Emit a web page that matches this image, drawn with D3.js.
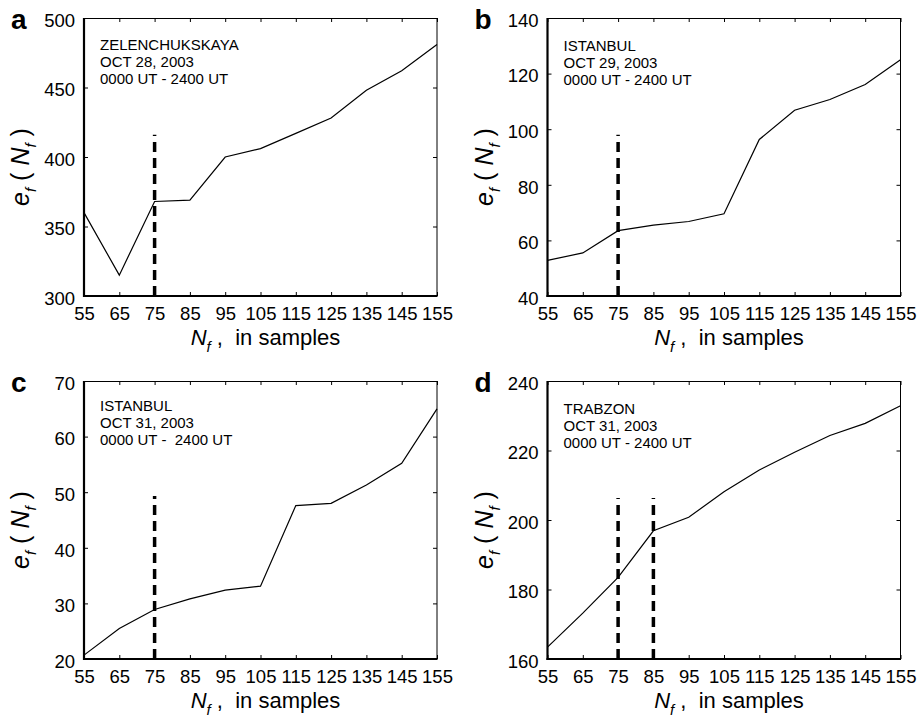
<!DOCTYPE html>
<html>
<head>
<meta charset="utf-8">
<script src="https://cdn.jsdelivr.net/npm/d3@7/dist/d3.min.js"></script>
<style>
  body { margin: 0; background: #fff; }
  text { font-family: "Liberation Sans", Arial, Helvetica, sans-serif; fill: #000; }
</style>
</head>
<body>
<div id="chart"></div>
<script>
// filter length N_f (samples) - same x for every panel
var nf = [55, 65, 75, 85, 95, 105, 115, 125, 135, 145, 155];
var xTicks = [55, 65, 75, 85, 95, 105, 115, 125, 135, 145, 155];

// e_f(N_f)
var errA = [360, 315, 368, 369, 400, 406, 417, 428, 448, 462, 481];
var errB = [52.8, 55.5, 63.5, 65.5, 66.8, 69.6, 96.3, 106.8, 110.7, 116.1, 125];
var errC = [20.7, 25.5, 28.9, 30.8, 32.4, 33.1, 47.6, 48, 51.3, 55.2, 65];
var errD = [163.4, 173.2, 183.5, 196.9, 200.8, 208.1, 214.4, 219.5, 224.3, 227.8, 232.9];

// y axis ticks
var yTicksA = [300, 350, 400, 450, 500];
var yTicksB = [40, 60, 80, 100, 120, 140];
var yTicksC = [20, 30, 40, 50, 60, 70];
var yTicksD = [160, 180, 200, 220, 240];

// dashed markers: x position and how high they reach
var markA = [75], markTopA = 416;
var markB = [75], markTopB = 98;
var markC = [75], markTopC = 49.3;
var markD = [75, 85], markTopD = 206.3;

// station notes
var noteA = ["ZELENCHUKSKAYA", "OCT 28, 2003", "0000 UT - 2400 UT"];
var noteB = ["ISTANBUL", "OCT 29, 2003", "0000 UT - 2400 UT"];
var noteC = ["ISTANBUL", "OCT 31, 2003", "0000 UT -  2400 UT"];
var noteD = ["TRABZON", "OCT 31, 2003", "0000 UT - 2400 UT"];

var W = 917, H = 721;

var svg = d3.select("#chart")
  .append("svg")
    .attr("width", W)
    .attr("height", H);

var panels = [
  {letter: "a", x0: 84,    y0: 18,  y: errA, ticks: yTicksA, marks: markA, markTop: markTopA, note: noteA, noteDy: 0},
  {letter: "b", x0: 547.5, y0: 18,  y: errB, ticks: yTicksB, marks: markB, markTop: markTopB, note: noteB, noteDy: 1},
  {letter: "c", x0: 84,    y0: 381, y: errC, ticks: yTicksC, marks: markC, markTop: markTopC, note: noteC, noteDy: -2},
  {letter: "d", x0: 547.5, y0: 381, y: errD, ticks: yTicksD, marks: markD, markTop: markTopD, note: noteD, noteDy: 1}
];

var pw = 353, ph = 278;

panels.forEach(function(p) {
  var g = svg.append("g")
    .attr("transform", "translate(" + p.x0 + "," + p.y0 + ")");

  var x = d3.scaleLinear().domain([55, 155]).range([0, pw]);
  var y = d3.scaleLinear()
    .domain([p.ticks[0], p.ticks[p.ticks.length - 1]])
    .range([ph, 0]);

  // ticks, matlab style (inward on all 4 sides)
  var bottom = g.append("g")
    .attr("transform", "translate(0," + ph + ")")
    .call(d3.axisBottom(x).tickValues(xTicks).tickSizeInner(-4).tickSizeOuter(0).tickPadding(11));
  var top = g.append("g")
    .call(d3.axisTop(x).tickValues(xTicks).tickSizeInner(-4).tickSizeOuter(0).tickFormat(""));
  var left = g.append("g")
    .call(d3.axisLeft(y).tickValues(p.ticks).tickSizeInner(-4).tickSizeOuter(0).tickPadding(9));
  var right = g.append("g")
    .attr("transform", "translate(" + pw + ",0)")
    .call(d3.axisRight(y).tickValues(p.ticks).tickSizeInner(-4).tickSizeOuter(0).tickFormat(""));

  [bottom, top, left, right].forEach(function(a) {
    a.select(".domain").remove();
    a.selectAll(".tick line").attr("stroke", "#000").attr("stroke-width", 1);
    a.selectAll(".tick text")
      .style("font-size", "18.5px")
      .style("font-family", "'Liberation Sans', Arial, sans-serif");
  });
  left.selectAll(".tick text").attr("dy", "0.45em");

  // box: thick left/bottom, thin top/right
  g.append("line").attr("x1", 0).attr("x2", pw).attr("y1", 0.5).attr("y2", 0.5)
    .attr("stroke", "#000").attr("stroke-width", 1);
  g.append("line").attr("x1", pw).attr("x2", pw).attr("y1", 0).attr("y2", ph)
    .attr("stroke", "#000").attr("stroke-width", 1);
  g.append("line").attr("x1", 0).attr("x2", 0).attr("y1", 0).attr("y2", ph + 1)
    .attr("stroke", "#000").attr("stroke-width", 2.2);
  g.append("line").attr("x1", -1).attr("x2", pw + 0.5).attr("y1", ph).attr("y2", ph)
    .attr("stroke", "#000").attr("stroke-width", 2.2);

  // dashed marker lines, drawn bottom up
  p.marks.forEach(function(m) {
    g.append("line")
      .attr("x1", x(m)).attr("x2", x(m))
      .attr("y1", y(p.ticks[0])).attr("y2", y(p.markTop))
      .attr("stroke", "#000")
      .attr("stroke-width", 3.5)
      .attr("stroke-dasharray", "10,6");
  });

  // error curve
  var line = d3.line()
    .x(function(d, i) { return x(nf[i]); })
    .y(function(d) { return y(d); });
  g.append("path")
    .datum(p.y)
    .attr("d", line)
    .attr("fill", "none")
    .attr("stroke", "#000")
    .attr("stroke-width", 1.2);

  // station note
  p.note.forEach(function(s, i) {
    g.append("text")
      .attr("x", 16)
      .attr("y", 32 + p.noteDy + i * 16.8)
      .attr("xml:space", "preserve")
      .style("white-space", "pre")
      .style("font-size", "15px")
      .text(s);
  });

  // x label: N_f ,  in samples
  var xl = g.append("text")
    .attr("x", pw / 2 + 5)
    .attr("y", ph + 49)
    .attr("text-anchor", "middle")
    .style("font-size", "22px")
    .style("white-space", "pre")
    .attr("xml:space", "preserve");
  xl.append("tspan").style("font-style", "italic").text("N");
  xl.append("tspan").style("font-style", "italic").style("font-size", "15px").attr("dy", 7).text("f");
  xl.append("tspan").attr("dy", -7).text(" ,  in samples");

  // y label: e_f ( N_f )
  var yl = g.append("text")
    .attr("transform", "translate(-55," + (ph / 2 + 10) + ") rotate(-90)")
    .attr("text-anchor", "middle")
    .style("font-size", "25px")
    .style("white-space", "pre")
    .attr("xml:space", "preserve");
  yl.append("tspan").style("font-style", "italic").text("e");
  yl.append("tspan").style("font-style", "italic").style("font-size", "15px").attr("dy", 7).text("f");
  yl.append("tspan").attr("dy", -7).text(" ( ");
  yl.append("tspan").style("font-style", "italic").text("N");
  yl.append("tspan").style("font-style", "italic").style("font-size", "15px").attr("dy", 7).text("f");
  yl.append("tspan").attr("dy", -7).text(" )");

  // panel letter
  g.append("text")
    .attr("x", -73)
    .attr("y", 11)
    .style("font-size", "28px")
    .style("font-weight", "bold")
    .text(p.letter);
});
</script>
</body>
</html>
